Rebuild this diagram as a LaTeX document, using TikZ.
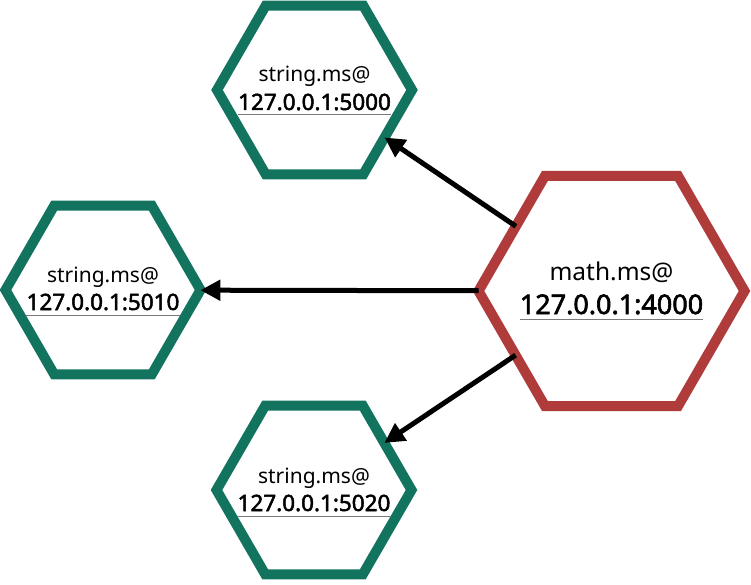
\documentclass[tikz,border=0pt]{standalone}
\usepackage{fontspec}
\setmainfont{Noto Sans}
\newfontfamily\addrfont{Noto Sans}[FakeBold=2.2]
\usetikzlibrary{shapes.geometric,arrows.meta}
\definecolor{hexgreen}{HTML}{12735E}
\definecolor{hexred}{HTML}{B03B3B}
\definecolor{ulgray}{HTML}{7A7A7A}
\tikzset{
  hexg/.style={regular polygon, regular polygon sides=6, minimum size=195pt,
    draw=hexgreen, line width=10pt, fill=white, inner sep=0pt, outer sep=0pt},
  hexr/.style={regular polygon, regular polygon sides=6, minimum size=266pt,
    draw=hexred, line width=10pt, fill=white, inner sep=0pt, outer sep=0pt},
  nameg/.style={inner sep=0pt, anchor=base, font=\fontsize{21pt}{25pt}\selectfont},
  addrg/.style={inner sep=0pt, anchor=base, font=\addrfont\fontsize{22.5pt}{27pt}\selectfont},
  namer/.style={inner sep=0pt, anchor=base, font=\fontsize{24.5pt}{29pt}\selectfont},
  addrr/.style={inner sep=0pt, anchor=base, font=\addrfont\fontsize{27pt}{32pt}\selectfont},
  ul/.style={draw=ulgray, line width=1pt},
  arr/.style={-{Triangle[length=20pt,width=20pt]}, line width=5pt, black}
}
\begin{document}
\begin{tikzpicture}[x=1pt,y=1pt]
\useasboundingbox (0,0) rectangle (751,-585);
% hexagons
\node[hexg] (top) at (314.5,-90) {};
\node[hexg] (left) at (103,-290) {};
\node[hexg] (bot) at (314,-490) {};
\node[hexr] (math) at (611.5,-291) {};
% texts
\node[nameg] (topname) at ([yshift=8pt]top.center) {string.ms@};
\node[addrg] (topaddr) at ([yshift=-20pt]top.center) {127.0.0.1:5000};
\node[nameg] (leftname) at ([yshift=8pt]left.center) {string.ms@};
\node[addrg] (leftaddr) at ([yshift=-20pt]left.center) {127.0.0.1:5010};
\node[nameg] (botname) at ([yshift=7pt]bot.center) {string.ms@};
\node[addrg] (botaddr) at ([yshift=-21pt]bot.center) {127.0.0.1:5020};
\node[namer] (mathname) at ([yshift=11pt]math.center) {math.ms@};
\node[addrr] (mathaddr) at ([yshift=-23pt]math.center) {127.0.0.1:4000};
% underlines
\draw[ul] ([yshift=-4.5pt]topaddr.base west) -- ([yshift=-4.5pt]topaddr.base east);
\draw[ul] ([yshift=-5pt]leftaddr.base west) -- ([yshift=-5pt]leftaddr.base east);
\draw[ul] ([yshift=-5pt]botaddr.base west) -- ([yshift=-5pt]botaddr.base east);
\draw[ul] ([yshift=-5pt]mathaddr.base west) -- ([yshift=-5pt]mathaddr.base east);
% arrows
\draw[arr] (math) -- (top);
\draw[arr] (math) -- (left);
\draw[arr] (math) -- (bot);
\end{tikzpicture}
\end{document}
